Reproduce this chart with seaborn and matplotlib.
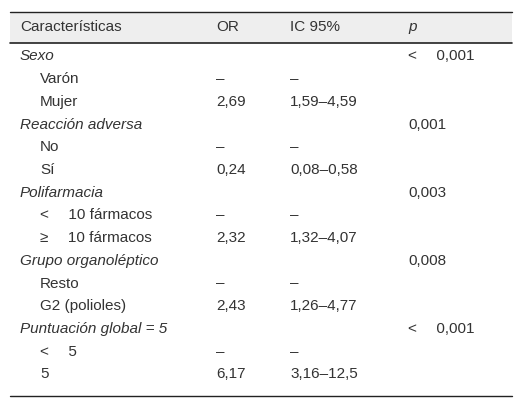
import matplotlib
matplotlib.use("Agg")
import matplotlib.pyplot as plt
import seaborn as sns

headers = ["Características", "OR", "IC 95%", "p"]
labels = ["Sexo", "Varón", "Mujer", "Reacción adversa", "No", "Sí",
          "Polifarmacia", "<\u2003 10 fármacos", "≥\u2003 10 fármacos",
          "Grupo organoléptico", "Resto", "G2 (polioles)",
          "Puntuación global = 5", "<\u2003 5", "5"]
is_group = [True, False, False, True, False, False, True, False, False,
            True, False, False, True, False, False]
or_vals = ["", "–", "2,69", "", "–", "0,24", "", "–", "2,32", "", "–", "2,43", "", "–", "6,17"]
ic_vals = ["", "–", "1,59–4,59", "", "–", "0,08–0,58", "", "–", "1,32–4,07",
           "", "–", "1,26–4,77", "", "–", "3,16–12,5"]
p_vals = ["<\u2003 0,001", "", "", "0,001", "", "", "0,003", "", "", "0,008",
          "", "", "<\u2003 0,001", "", ""]

sns.set_theme(style="white")
plt.rcParams['font.family'] = ['Liberation Sans', 'DejaVu Sans']
fig = plt.figure(figsize=(5.22, 4.07), dpi=100)
ax = fig.add_axes([0, 0, 1, 1])
ax.set_xlim(0, 522)
ax.set_ylim(407, 0)
ax.axis("off")

col = "#333333"
fs = 11
ax.fill_between([10, 512], 12, 43, color="#eeeeee", lw=0)
ax.plot([10, 512], [12, 12], color="#222222", lw=1)
ax.plot([10, 512], [43, 43], color="#222222", lw=1.2)
ax.plot([10, 512], [396, 396], color="#222222", lw=1)

xs = [20, 216, 290, 408]
for i, h in enumerate(headers):
    ax.text(xs[i], 27, h, fontsize=fs, color=col, va="center",
            style="italic" if h == "p" else "normal")

y0, dy = 56.5, 22.7
for i, lab in enumerate(labels):
    y = y0 + i * dy
    ax.text(20 if is_group[i] else 40, y, lab, fontsize=fs, color=col, va="center",
            style="italic" if is_group[i] else "normal")
    ax.text(xs[1], y, or_vals[i], fontsize=fs, color=col, va="center")
    ax.text(xs[2], y, ic_vals[i], fontsize=fs, color=col, va="center")
    ax.text(xs[3], y, p_vals[i], fontsize=fs, color=col, va="center")

fig.savefig("out.png", dpi=100)
